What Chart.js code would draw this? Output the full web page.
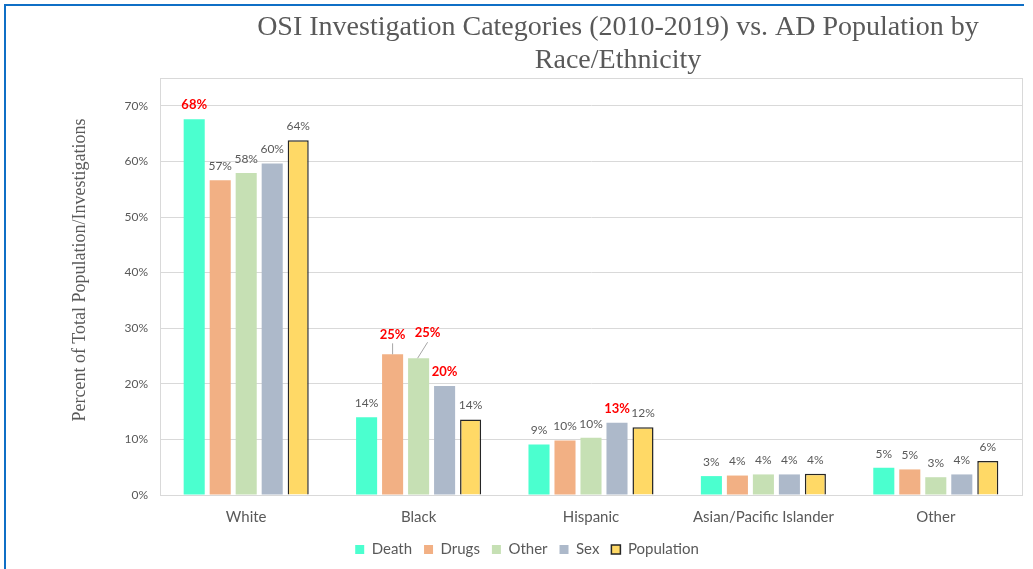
<!DOCTYPE html>
<html>
<head>
<meta charset="utf-8">
<title>OSI Investigation Categories vs. AD Population</title>
<script src="https://cdn.jsdelivr.net/npm/chart.js@4.4.0/dist/chart.umd.min.js"></script>
<style>
  html, body { margin: 0; padding: 0; background: #fff; }
  #wrap { position: relative; width: 1033px; height: 569px; }
  #frame {
    position: absolute; left: 4px; top: 4px; width: 1018px; height: 570px;
    border-left: 2px solid #0F6FC6; border-top: 2px solid #0F6FC6;
    pointer-events: none;
  }
</style>
</head>
<body>
<div id="wrap">
  <canvas id="raceChart"></canvas>
  <div id="frame"></div>
</div>
<script>
// Chart values (percent)
const categories = ['White', 'Black', 'Hispanic', 'Asian/Pacific Islander', 'Other'];
const death      = [67.6, 14.0, 9.1, 3.4, 4.9];
const drugs      = [56.6, 25.3, 9.8, 3.5, 4.6];
const otherCat   = [57.9, 24.6, 10.3, 3.7, 3.2];
const sex        = [59.6, 19.6, 13.0, 3.7, 3.7];
const population = [63.8, 13.6, 12.2, 3.8, 6.1];
const yTicks     = [0, 10, 20, 30, 40, 50, 60, 70];

const titleLines = ['OSI Investigation Categories (2010-2019) vs. AD Population by', 'Race/Ethnicity'];
const yTitle = 'Percent of Total Population/Investigations';

// labels shown in red bold ("dataset-index")
const highlighted = ['0-0', '1-1', '2-1', '3-1', '3-2'];

document.addEventListener('DOMContentLoaded', function() {

    const textGray = '#595959';

    // label offsets for the two Black labels that have leader lines
    const leaderShift = {
        '1-1': { dx: 0, dy: 6 },
        '2-1': { dx: 9, dy: 11 }
    };

    // Draws the value labels above each bar
    const barLabels = {
        id: 'barLabels',
        afterDatasetsDraw(chart) {
            const ctx = chart.ctx;
            ctx.save();
            ctx.textAlign = 'center';
            ctx.textBaseline = 'middle';
            chart.data.datasets.forEach((ds, di) => {
                const meta = chart.getDatasetMeta(di);
                meta.data.forEach((bar, i) => {
                    const key = di + '-' + i;
                    const shift = leaderShift[key] || { dx: 0, dy: 0 };
                    const x = bar.x + shift.dx;
                    const y = bar.y - 14 - shift.dy;
                    if (leaderShift[key]) {
                        ctx.strokeStyle = '#A6A6A6';
                        ctx.lineWidth = 1;
                        ctx.beginPath();
                        ctx.moveTo(bar.x - (shift.dx ? 1 : 0), bar.y);
                        ctx.lineTo(x, y + 9);
                        ctx.stroke();
                    }
                    const red = highlighted.includes(key);
                    ctx.font = red ? 'bold 13px Lato' : '12px Lato';
                    ctx.fillStyle = red ? '#FF0000' : textGray;
                    ctx.fillText(Math.round(ds.data[i]) + '%', x, y);
                });
            });
            ctx.restore();
        }
    };

    // Light gray box round the plot area
    const plotBox = {
        id: 'plotBox',
        beforeDatasetsDraw(chart) {
            const a = chart.chartArea;
            const ctx = chart.ctx;
            ctx.save();
            ctx.strokeStyle = '#D9D9D9';
            ctx.lineWidth = 1;
            ctx.strokeRect(Math.round(a.left) + 0.5, Math.round(a.top) + 0.5,
                Math.round(a.right - a.left), Math.round(a.bottom - a.top));
            ctx.restore();
        }
    };

    // Two line title and the vertical axis title, both in a serif face
    const titleText = {
        id: 'titleText',
        afterDraw(chart) {
            const ctx = chart.ctx;
            ctx.save();
            ctx.font = '28px "Liberation Serif"';
            ctx.fillStyle = textGray;
            ctx.textAlign = 'center';
            ctx.textBaseline = 'middle';
            ctx.fillText(titleLines[0], 618, 28);
            ctx.fillText(titleLines[1], 618, 61);

            ctx.translate(80, 270);
            ctx.rotate(-Math.PI / 2);
            ctx.font = '18px "Liberation Serif"';
            ctx.fillText(yTitle, 0, 0);
            ctx.restore();
        }
    };

    const ctx = document.getElementById('raceChart').getContext('2d');

    new Chart(ctx, {
        type: 'bar',
        data: {
            labels: categories,
            datasets: [
                { label: 'Death', data: death, backgroundColor: '#4BFFCF', borderWidth: 0 },
                { label: 'Drugs', data: drugs, backgroundColor: '#F2B084', borderWidth: 0 },
                { label: 'Other', data: otherCat, backgroundColor: '#C6E0B4', borderWidth: 0 },
                { label: 'Sex', data: sex, backgroundColor: '#ADB9CA', borderWidth: 0 },
                { label: 'Population', data: population, backgroundColor: '#FFD966', borderColor: '#262626', borderWidth: 1.5 }
            ]
        },
        options: {
            responsive: true,
            maintainAspectRatio: false,
            animation: false,
            categoryPercentage: 0.754,
            barPercentage: 0.81,
            layout: {
                padding: { left: 32, right: 11, top: 78, bottom: 2 }
            },
            plugins: {
                legend: {
                    position: 'bottom',
                    labels: {
                        color: textGray,
                        font: { family: 'Lato', size: 15 },
                        boxWidth: 9,
                        boxHeight: 9,
                        padding: 12
                    }
                },
                tooltip: { enabled: false },
                title: { display: false }
            },
            scales: {
                x: {
                    grid: { display: false, drawTicks: false },
                    border: { display: true, color: '#D9D9D9' },
                    ticks: {
                        color: textGray,
                        font: { family: 'Lato', size: 15 },
                        padding: 13
                    },
                    afterFit: function(scale) { scale.height = 35; }
                },
                y: {
                    min: 0,
                    max: 75,
                    grid: { color: '#D9D9D9', drawTicks: false },
                    border: { display: true, color: '#D9D9D9' },
                    ticks: {
                        stepSize: 10,
                        color: textGray,
                        font: { family: 'Lato', size: 12 },
                        padding: 12,
                        callback: function(value) { return value + '%'; }
                    },
                    afterBuildTicks: function(scale) {
                        scale.ticks = yTicks.map(v => ({ value: v }));
                    },
                    afterFit: function(scale) { scale.width = 128; }
                }
            }
        },
        plugins: [plotBox, barLabels, titleText]
    });
});
</script>
</body>
</html>
